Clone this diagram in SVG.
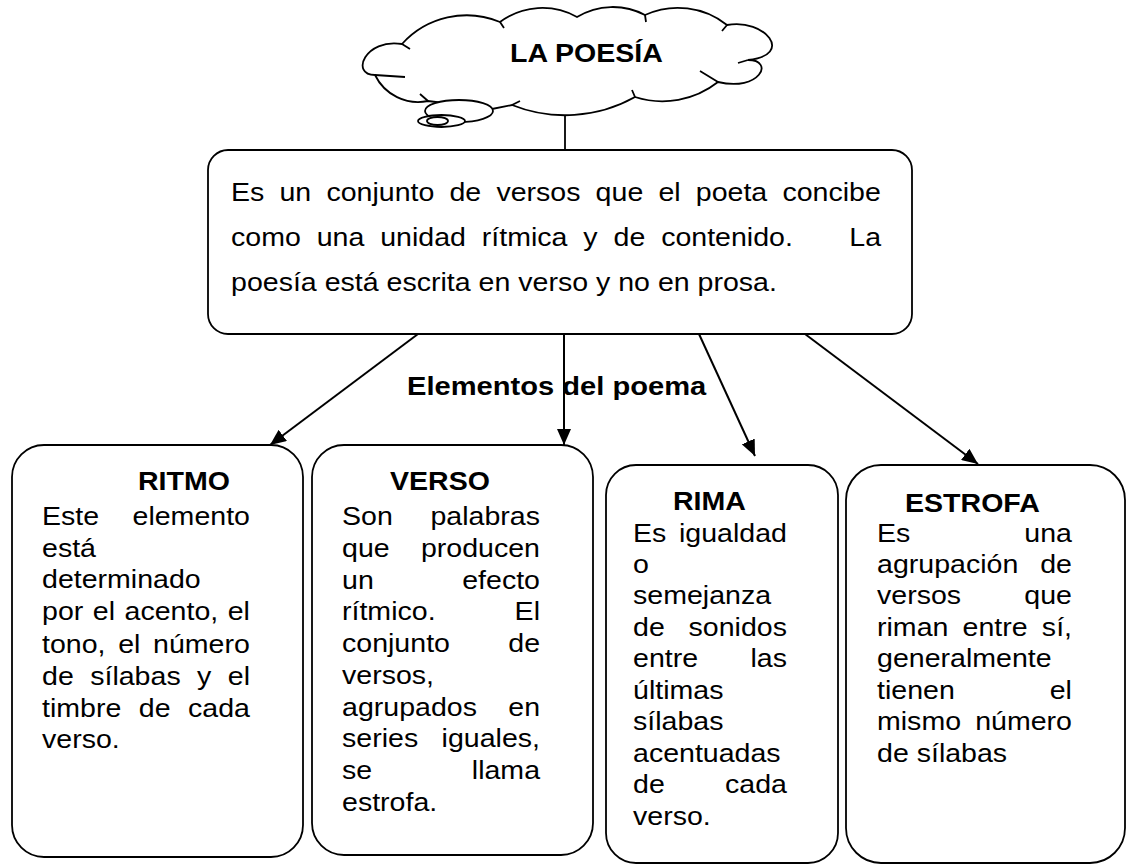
<svg xmlns="http://www.w3.org/2000/svg" width="1128" height="866" viewBox="0 0 1128 866">
<defs>
<style>
.t{font-family:"Liberation Sans",Arial,sans-serif;font-size:25.5px;fill:#000}
.b{font-weight:bold}
.box{fill:#fff;stroke:#000;stroke-width:1.8}
.ln{fill:none;stroke:#000;stroke-width:1.8}
.conn{fill:none;stroke:#000;stroke-width:2;marker-end:url(#ah)}
</style>
<marker id="ah" viewBox="0 0 16 14" refX="16" refY="7" markerWidth="16" markerHeight="14" markerUnits="userSpaceOnUse" orient="auto">
<path d="M0,0 L16,7 L0,14 z" fill="#000"/>
</marker>
</defs>
<rect width="1128" height="866" fill="#fff"/>

<g id="connectors">
<line class="ln" x1="565" y1="115" x2="565" y2="150"/>
<path class="conn" d="M418,334 L270,445"/>
<path class="conn" d="M564,334 L564,445"/>
<path class="conn" d="M699,334 L755,456"/>
<path class="conn" d="M805,334 L978,464"/>
</g>

<g id="cloud">
<path class="box" d="M402,44 A87,87 0 0 1 500,22 A71,71 0 0 1 577,17 A69,69 0 0 1 645,15 A79,79 0 0 1 727,25 C765,18 795,55 748,60 C775,60 760,92 718,82 A90,90 0 0 1 635,97 A143,143 0 0 1 512,105 L492,109 L428,101 A48,48 0 0 1 375,75 C350,75 365,38 402,44 Z"/>
<path class="ln" d="M402,44 L410,49 M500,22 L504,28 M645,15 L646,22 M727,25 L722,31 M748,60 L738,63 M718,82 L700,71 M635,97 L632,90 M375,75 L405,77 M512,105 L520,101 M428,101 L420,94"/>
<ellipse class="box" cx="459" cy="111" rx="34" ry="11"/>
<ellipse class="box" cx="441.5" cy="121" rx="23.5" ry="6"/>
<ellipse class="box" cx="437.5" cy="121" rx="10.5" ry="4"/>
<text class="t b" transform="translate(510,62) scale(1.12,1)" x="0" y="0">LA POESÍA</text>
</g>

<g id="definicion">
<rect class="box" x="208" y="150" width="704" height="184" rx="20"/>
<g transform="translate(231,0) scale(1.12,1)" class="t">
<text x="0" y="201" style="word-spacing:6.45px">Es un conjunto de versos que el poeta concibe</text>
<text x="0" y="246" style="word-spacing:7.1px">como una unidad rítmica y de contenido.</text>
<text x="580.4" y="246" text-anchor="end">La</text>
<text x="0" y="291">poesía está escrita en verso y no en prosa.</text>
</g>
</g>

<g id="label-elementos">
<text class="t b" style="font-size:26px" transform="translate(407,395) scale(1.12,1)" x="0" y="0">Elementos del poema</text>
</g>

<g id="ritmo">
<rect class="box" x="12" y="445" width="291" height="412" rx="32"/>
<g transform="translate(42,0) scale(1.12,1)" class="t">
<text x="85.7" y="490" class="b">RITMO</text>
<text x="0" y="525">Este</text><text x="185.7" y="525" text-anchor="end">elemento</text>
<text x="0" y="557">está</text>
<text x="0" y="588">determinado</text>
<text x="0" y="620" style="word-spacing:1.43px">por el acento, el</text>
<text x="0" y="653" style="word-spacing:4.24px">tono, el número</text>
<text x="0" y="685" style="word-spacing:7.6px">de sílabas y el</text>
<text x="0" y="717" style="word-spacing:8.5px">timbre de cada</text>
<text x="0" y="748">verso.</text>
</g>
</g>

<g id="verso">
<rect class="box" x="312" y="445" width="281" height="410" rx="32"/>
<g transform="translate(342,0) scale(1.12,1)" class="t">
<text x="42.9" y="490" class="b">VERSO</text>
<text x="0" y="525">Son</text><text x="176.8" y="525" text-anchor="end">palabras</text>
<text x="0" y="557">que</text><text x="176.8" y="557" text-anchor="end">producen</text>
<text x="0" y="589">un</text><text x="176.8" y="589" text-anchor="end">efecto</text>
<text x="0" y="620">rítmico.</text><text x="176.8" y="620" text-anchor="end">El</text>
<text x="0" y="652">conjunto</text><text x="176.8" y="652" text-anchor="end">de</text>
<text x="0" y="684">versos,</text>
<text x="0" y="716">agrupados</text><text x="176.8" y="716" text-anchor="end">en</text>
<text x="0" y="747">series</text><text x="176.8" y="747" text-anchor="end">iguales,</text>
<text x="0" y="779">se</text><text x="176.8" y="779" text-anchor="end">llama</text>
<text x="0" y="811">estrofa.</text>
</g>
</g>

<g id="rima">
<rect class="box" x="606" y="465" width="232" height="398" rx="30"/>
<g transform="translate(633,0) scale(1.12,1)" class="t">
<text x="35.7" y="510" class="b">RIMA</text>
<text x="0" y="542">Es</text><text x="137.5" y="542" text-anchor="end">igualdad</text>
<text x="0" y="573">o</text>
<text x="0" y="604">semejanza</text>
<text x="0" y="636">de</text><text x="137.5" y="636" text-anchor="end">sonidos</text>
<text x="0" y="667">entre</text><text x="137.5" y="667" text-anchor="end">las</text>
<text x="0" y="699">últimas</text>
<text x="0" y="730">sílabas</text>
<text x="0" y="762">acentuadas</text>
<text x="0" y="793">de</text><text x="137.5" y="793" text-anchor="end">cada</text>
<text x="0" y="825">verso.</text>
</g>
</g>

<g id="estrofa">
<rect class="box" x="846" y="465" width="279" height="398" rx="35"/>
<g transform="translate(877,0) scale(1.12,1)" class="t">
<text x="25" y="512" class="b">ESTROFA</text>
<text x="0" y="542">Es</text><text x="174.1" y="542" text-anchor="end">una</text>
<text x="0" y="573">agrupación</text><text x="174.1" y="573" text-anchor="end">de</text>
<text x="0" y="604">versos</text><text x="174.1" y="604" text-anchor="end">que</text>
<text x="0" y="636" style="word-spacing:5.6px">riman entre sí,</text>
<text x="0" y="667">generalmente</text>
<text x="0" y="699">tienen</text><text x="174.1" y="699" text-anchor="end">el</text>
<text x="0" y="730">mismo</text><text x="174.1" y="730" text-anchor="end">número</text>
<text x="0" y="762">de sílabas</text>
</g>
</g>
</svg>
